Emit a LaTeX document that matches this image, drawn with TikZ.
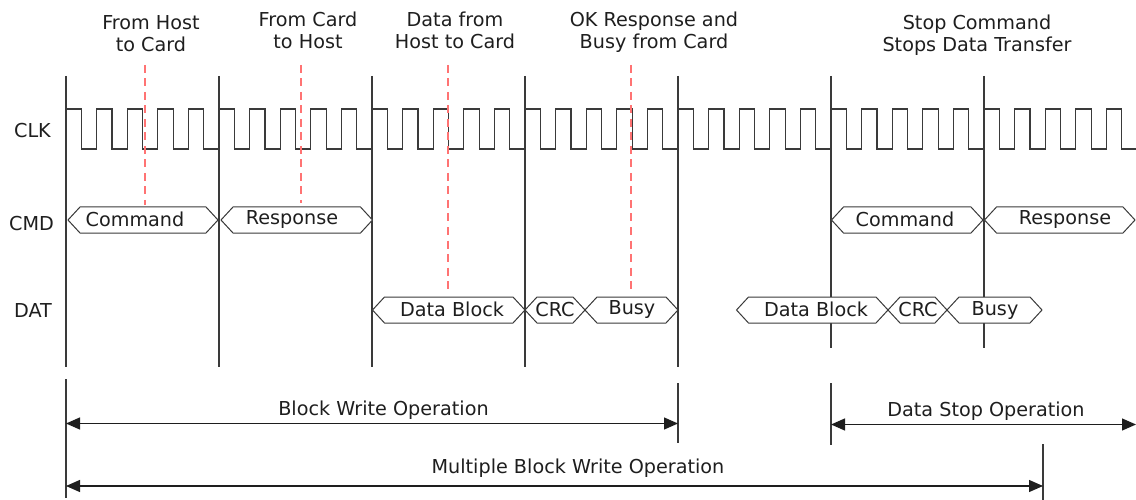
\documentclass[tikz,border=0pt]{standalone}
\usepackage{fontspec}
\setmainfont{DejaVu Sans}
\usetikzlibrary{arrows.meta}
\definecolor{ink}{HTML}{1E1E1E}
\definecolor{wire}{HTML}{3A3A3A}
\definecolor{marker}{HTML}{FF7373}
% hexagonal bus segment between x=#1 and x=#2, centred on y=#3
\newcommand\busseg[3]{%
  \draw[busline] (#1,#3) -- ({#1+12},{#3-13}) -- ({#2-12},{#3-13}) -- (#2,#3)
    -- ({#2-12},{#3+13}) -- ({#1+12},{#3+13}) -- cycle;}
\begin{document}
\begin{tikzpicture}[x=1pt,y=-1pt,
  txt/.style={font=\fontsize{19.2}{22}\selectfont, text=ink, inner sep=0pt, anchor=base},
  head/.style={txt, align=center},
  tick/.style={draw=wire, line width=1.2pt},
  clk/.style={draw=wire, line width=1.2pt},
  busline/.style={draw=wire, fill=white, line width=1pt, line join=miter},
  probe/.style={draw=marker, line width=2pt, dash pattern=on 8pt off 5.5pt},
  span/.style={draw=ink, line width=1.3pt, {Triangle[length=14pt,width=12pt]}-{Triangle[length=14pt,width=12pt]}}]
\useasboundingbox (0,0) rectangle (1136,500);

% signal names
\node[txt] (clkname) at (32.5,138) {CLK};
\node[txt] (cmdname) at (31.5,230.5) {CMD};
\node[txt] (datname) at (33,317.5) {DAT};

% phase boundaries
\foreach \n/\x in {a/66,b/219,c/372,d/525,e/678}{
  \coordinate (\n top) at (\x,76);
  \coordinate (\n bot) at (\x,367);
  \draw[tick] (\n top) -- (\n bot);
}
\foreach \n/\x in {f/831,g/984}{
  \coordinate (\n top) at (\x,76);
  \coordinate (\n bot) at (\x,348);
  \draw[tick] (\n top) -- (\n bot);
}

% clock
\coordinate (clkstart) at (66,109);
\draw[clk] (clkstart) \foreach \i in {0,...,34}{ -- ++(15.3,0) -- ++(0,40) -- ++(15.3,0) -- ++(0,-40) };

% command line
\busseg{68}{218}{220}
\node[txt] (cmd1) at (135,226.5) {Command};
\busseg{221}{372.5}{220}
\node[txt] (rsp1) at (292,225) {Response};
\busseg{831.5}{983}{220}
\node[txt] (cmd2) at (905,226.5) {Command};
\busseg{984.5}{1135}{220}
\node[txt] (rsp2) at (1065,225) {Response};

% data line
\busseg{372.5}{525}{310}
\node[txt] (blk1) at (452,316.5) {Data Block};
\busseg{525}{585}{310}
\node[txt] (crc1) at (555,316.5) {CRC};
\busseg{585}{678}{310}
\node[txt] (bsy1) at (632,314.5) {Busy};
\busseg{736.5}{888}{310}
\node[txt] (blk2) at (816,316.5) {Data Block};
\busseg{888}{947}{310}
\node[txt] (crc2) at (918,316.5) {CRC};
\busseg{947}{1042}{310}
\node[txt] (bsy2) at (995,315) {Busy};

% event markers and their captions (base = last line)
\node[head] (h1) at (151,51.5) {From Host\\to Card};
\node[head] (h2) at (308,49) {From Card\\to Host};
\node[head] (h3) at (455,49) {Data from\\Host to Card};
\node[head] (h4) at (654,49) {OK Response and\\Busy from Card};
\node[head] (h5) at (977,51.5) {Stop Command\\Stops Data Transfer};
\coordinate (m1a) at (145,65);   \coordinate (m1b) at (145,205);
\coordinate (m2a) at (301,65);   \coordinate (m2b) at (301,203);
\coordinate (m3a) at (447.5,65); \coordinate (m3b) at (447.5,292);
\coordinate (m4a) at (630.5,65); \coordinate (m4b) at (630.5,292);
\draw[probe] (m1a) -- (m1b);
\draw[probe] (m2a) -- (m2b);
\draw[probe] (m3a) -- (m3b);
\draw[probe] (m4a) -- (m4b);

% operation spans
\coordinate (s1t) at (66,379);   \coordinate (s1b) at (66,498);
\coordinate (s2t) at (678,383);  \coordinate (s2b) at (678,443);
\coordinate (s3t) at (831,383);  \coordinate (s3b) at (831,445);
\coordinate (s4t) at (1043,444); \coordinate (s4b) at (1043,500);
\foreach \n in {s1,s2,s3,s4}{ \draw[tick] (\n t) -- (\n b); }

\coordinate (bw1) at (66,423.5);  \coordinate (bw2) at (678,423.5);
\coordinate (ds1) at (831,424.5); \coordinate (ds2) at (1136,424.5);
\coordinate (mb1) at (66,486);    \coordinate (mb2) at (1043,486);
\draw[span] (bw1) -- (bw2);
\draw[span] (ds1) -- (ds2);
\draw[span] (mb1) -- (mb2);
\node[txt] (bwlabel) at (383.5,415) {Block Write Operation};
\node[txt] (dslabel) at (986,416) {Data Stop Operation};
\node[txt] (mblabel) at (578,473.3) {Multiple Block Write Operation};
\end{tikzpicture}
\end{document}
